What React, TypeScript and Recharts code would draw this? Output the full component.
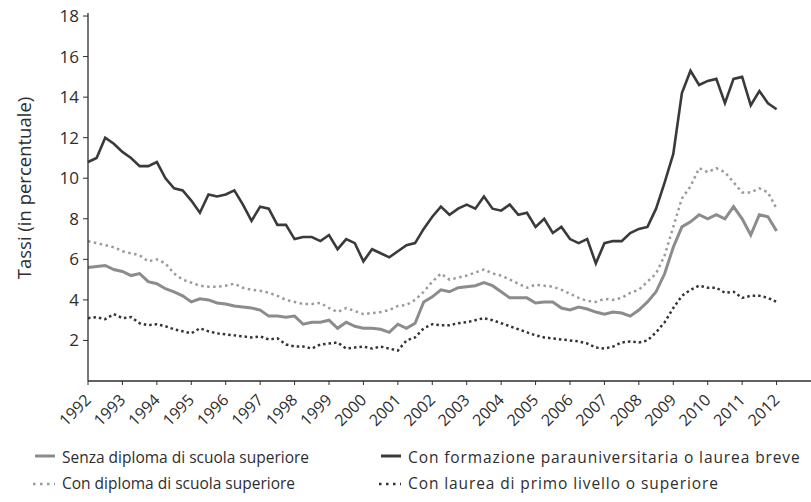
import { LineChart, Line, XAxis, YAxis, Label } from "recharts";

// quarterly points, 1992 Q1 .. 2012 Q1
const quarters = Array.from({ length: 81 }, (_, i) => 1992 + i / 4);

const yearTicks = [
  1992, 1993, 1994, 1995, 1996, 1997, 1998, 1999, 2000, 2001, 2002,
  2003, 2004, 2005, 2006, 2007, 2008, 2009, 2010, 2011, 2012,
];
const rateTicks = [2, 4, 6, 8, 10, 12, 14, 16, 18];

// Senza diploma di scuola superiore
const senzaDiploma = [
  5.6, 5.65, 5.7, 5.5, 5.4, 5.2, 5.3, 4.9, 4.8, 4.55, 4.4, 4.2,
  3.9, 4.05, 4.0, 3.85, 3.8, 3.7, 3.65, 3.6, 3.5, 3.2, 3.2, 3.15,
  3.2, 2.8, 2.9, 2.9, 3.0, 2.6, 2.9, 2.7, 2.6, 2.6, 2.55, 2.4,
  2.8, 2.6, 2.85, 3.9, 4.15, 4.5, 4.4, 4.6, 4.65, 4.7, 4.85, 4.7,
  4.4, 4.1, 4.1, 4.1, 3.85, 3.9, 3.9, 3.6, 3.5, 3.65, 3.55, 3.4,
  3.3, 3.4, 3.35, 3.2, 3.5, 3.9, 4.4, 5.3, 6.6, 7.6, 7.85, 8.2,
  8.0, 8.2, 8.0, 8.6, 8.0, 7.2, 8.2, 8.1, 7.4,
];

// Con diploma di scuola superiore
const conDiploma = [
  6.9, 6.8, 6.7, 6.6, 6.4, 6.3, 6.2, 5.9, 6.0, 5.8, 5.3, 5.0,
  4.85, 4.7, 4.65, 4.65, 4.7, 4.8, 4.6, 4.5, 4.45, 4.35, 4.2, 4.0,
  3.9, 3.8, 3.8, 3.85, 3.6, 3.4, 3.6, 3.45, 3.3, 3.35, 3.4, 3.5,
  3.7, 3.75, 4.0, 4.4, 4.9, 5.3, 5.0, 5.1, 5.2, 5.35, 5.5, 5.3,
  5.2, 5.0, 4.8, 4.6, 4.75, 4.7, 4.65, 4.5, 4.3, 4.1, 3.95, 3.9,
  4.05, 4.0, 4.1, 4.35, 4.5, 4.9, 5.3, 6.2, 7.6, 9.0, 9.6, 10.5,
  10.3, 10.5, 10.3, 9.8, 9.3, 9.3, 9.5, 9.3, 8.5,
];

// Con formazione parauniversitaria o laurea breve
const parauniversitaria = [
  10.8, 11.0, 12.0, 11.7, 11.3, 11.0, 10.6, 10.6, 10.8, 10.0, 9.5, 9.4,
  8.9, 8.3, 9.2, 9.1, 9.2, 9.4, 8.7, 7.9, 8.6, 8.5, 7.7, 7.7,
  7.0, 7.1, 7.1, 6.9, 7.2, 6.5, 7.0, 6.8, 5.9, 6.5, 6.3, 6.1,
  6.4, 6.7, 6.8, 7.5, 8.1, 8.6, 8.2, 8.5, 8.7, 8.5, 9.1, 8.5,
  8.4, 8.7, 8.2, 8.3, 7.6, 8.0, 7.3, 7.6, 7.0, 6.8, 7.0, 5.8,
  6.8, 6.9, 6.9, 7.3, 7.5, 7.6, 8.5, 9.8, 11.2, 14.2, 15.3, 14.6,
  14.8, 14.9, 13.7, 14.9, 15.0, 13.6, 14.3, 13.7, 13.4,
];

// Con laurea di primo livello o superiore
const laurea = [
  3.1, 3.15, 3.05, 3.3, 3.1, 3.15, 2.85, 2.75, 2.8, 2.7, 2.55, 2.45,
  2.35, 2.6, 2.45, 2.35, 2.3, 2.25, 2.2, 2.15, 2.2, 2.05, 2.1, 1.8,
  1.7, 1.7, 1.6, 1.8, 1.85, 1.9, 1.6, 1.65, 1.7, 1.6, 1.7, 1.6,
  1.5, 2.0, 2.15, 2.6, 2.8, 2.75, 2.75, 2.85, 2.9, 3.0, 3.1, 3.0,
  2.85, 2.7, 2.55, 2.4, 2.25, 2.15, 2.1, 2.05, 2.0, 1.95, 1.85, 1.65,
  1.6, 1.7, 1.9, 1.95, 1.9, 2.0, 2.4, 2.9, 3.6, 4.2, 4.5, 4.7,
  4.6, 4.6, 4.35, 4.4, 4.1, 4.2, 4.2, 4.1, 3.9,
];

const data = quarters.map((t, i) => ({
  t,
  senza: senzaDiploma[i],
  diploma: conDiploma[i],
  para: parauniversitaria[i],
  laurea: laurea[i],
}));

const FONT = "'Open Sans', sans-serif";
const INK = "#2e2e2e";

function YearTick(props: any) {
  const { x, y, payload } = props;
  return (
    <g transform={`translate(${x + 4},${y + 14})`}>
      <text
        x={0}
        y={0}
        textAnchor="end"
        transform="rotate(-45)"
        fontSize={16}
        fontFamily={FONT}
        fill={INK}
      >
        {payload.value}
      </text>
    </g>
  );
}

function LegendItem({
  dotted,
  color,
  label,
  spacing = 0,
}: {
  dotted?: boolean;
  color: string;
  label: string;
  spacing?: number;
}) {
  return (
    <div style={{ display: "flex", alignItems: "center", height: 26 }}>
      <svg width={26} height={10} style={{ marginRight: 5 }}>
        {dotted ? (
          <line x1={2} x2={24} y1={6} y2={6} stroke={color} strokeWidth={2.5} strokeDasharray="2.5 4.5" />
        ) : (
          <line x1={4} x2={24} y1={4} y2={4} stroke={color} strokeWidth={3} />
        )}
      </svg>
      <span style={{ letterSpacing: spacing }}>{label}</span>
    </div>
  );
}

export default function App() {
  return (
    <div
      style={{
        position: "absolute",
        left: 0,
        top: 0,
        width: 811,
        height: 502,
        background: "#fff",
        fontFamily: FONT,
        color: INK,
      }}
    >
      <LineChart width={811} height={430} data={data} margin={{ top: 13, right: 0, bottom: 0, left: 0 }}>
        <XAxis
          dataKey="t"
          type="number"
          domain={[1992, 2013]}
          ticks={yearTicks}
          interval={0}
          height={49}
          tickSize={4}
          tick={<YearTick />}
          axisLine={{ stroke: INK, strokeWidth: 1.3 }}
          tickLine={{ stroke: INK }}
        />
        <YAxis
          type="number"
          domain={[0, 18.15]}
          ticks={rateTicks}
          width={88}
          tickSize={5}
          tickMargin={4}
          allowDataOverflow
          tick={{ fontSize: 17, fontFamily: FONT, fill: INK }}
          axisLine={{ stroke: INK, strokeWidth: 1.3 }}
          tickLine={{ stroke: INK }}
        >
          <Label
            content={() => (
              <text
                transform="translate(31,188) rotate(-90)"
                textAnchor="middle"
                fontSize={18.5}
                fontFamily={FONT}
                fill={INK}
              >
                Tassi (in percentuale)
              </text>
            )}
          />
        </YAxis>
        <Line
          dataKey="para"
          type="linear"
          stroke="#3a3a3a"
          strokeWidth={2.6}
          dot={false}
          isAnimationActive={false}
        />
        <Line
          dataKey="senza"
          type="linear"
          stroke="#8c8c8c"
          strokeWidth={3}
          dot={false}
          isAnimationActive={false}
        />
        <Line
          dataKey="diploma"
          type="linear"
          stroke="#9a9a9a"
          strokeWidth={2.5}
          strokeDasharray="2.5 3.5"
          dot={false}
          isAnimationActive={false}
        />
        <Line
          dataKey="laurea"
          type="linear"
          stroke="#333"
          strokeWidth={2.5}
          strokeDasharray="2.5 3"
          dot={false}
          isAnimationActive={false}
        />
      </LineChart>
      <div
        style={{
          position: "absolute",
          top: 444,
          left: 31,
          display: "grid",
          gridTemplateColumns: "346px 430px",
          fontSize: 15.5,
          whiteSpace: "nowrap",
        }}
      >
        <LegendItem color="#8c8c8c" label="Senza diploma di scuola superiore" />
        <LegendItem color="#3a3a3a" label="Con formazione parauniversitaria o laurea breve" spacing={0.9} />
        <LegendItem dotted color="#9a9a9a" label="Con diploma di scuola superiore" />
        <LegendItem dotted color="#333" label="Con laurea di primo livello o superiore" spacing={0.9} />
      </div>
    </div>
  );
}
